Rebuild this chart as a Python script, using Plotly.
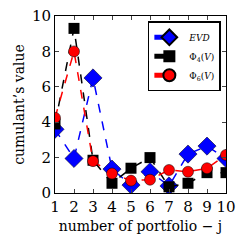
import plotly.graph_objects as go

x = [1, 2, 3, 4, 5, 6, 7, 8, 9, 10]
evd = [3.6, 1.95, 6.5, 1.35, 0.45, 1.2, 0.4, 2.2, 2.65, 1.95]
phi4 = [3.9, 9.3, 1.85, 0.55, 1.4, 2.0, 0.35, 0.55, 1.15, 1.15]
phi6 = [4.25, 8.0, 1.8, 1.1, 0.7, 0.75, 1.3, 1.2, 1.4, 2.15]
names = ["<i>EVD</i>", "Φ<sub>4</sub>(<i>V</i>)", "Φ<sub>6</sub>(<i>V</i>)"]

fig = go.Figure()
fig.add_trace(go.Scatter(x=x, y=evd, name=names[0], mode="lines+markers",
                         line=dict(color="blue", dash="dash", width=1.5),
                         marker=dict(symbol="diamond", size=14, color="blue",
                                     line=dict(color="black", width=0.5))))
fig.add_trace(go.Scatter(x=x, y=phi4, name=names[1], mode="lines+markers",
                         line=dict(color="black", dash="dash", width=1.5),
                         marker=dict(symbol="square", size=11, color="black")))
fig.add_trace(go.Scatter(x=x, y=phi6, name=names[2], mode="lines+markers",
                         line=dict(color="red", dash="dash", width=1.5),
                         marker=dict(symbol="circle", size=11, color="red",
                                     line=dict(color="black", width=0.5))))

font = "DejaVu Serif"
fig.update_layout(
    width=243, height=247,
    margin=dict(l=55, r=17, t=16, b=54, autoexpand=False),
    paper_bgcolor="white", plot_bgcolor="white",
    font=dict(family=font, size=13, color="black"),
    showlegend=True,
    legend=dict(x=0.97, y=0.97, xanchor="right", yanchor="top",
                bgcolor="white", bordercolor="black", borderwidth=1.5,
                font=dict(size=9), tracegroupgap=0, itemwidth=30,
                itemsizing="constant"),
    xaxis=dict(range=[1, 10], tickvals=x, ticks="inside", ticklen=4,
               showline=True, linecolor="black", linewidth=1, mirror="ticks",
               showgrid=False, zeroline=False, automargin=False,
               title=dict(text="number of portfolio − j", font=dict(size=14), standoff=6),
               tickfont=dict(size=15)),
    yaxis=dict(range=[0, 10], tickvals=[0, 2, 4, 6, 8, 10], ticks="inside", ticklen=4,
               showline=True, linecolor="black", linewidth=1, mirror="ticks",
               showgrid=False, zeroline=False, automargin=False,
               title=dict(text="cumulant’s value", font=dict(size=14), standoff=4),
               tickfont=dict(size=15)),
)
fig.write_html("out.html", post_script="document.body.style.margin='0';",
               config={"displayModeBar": False})
